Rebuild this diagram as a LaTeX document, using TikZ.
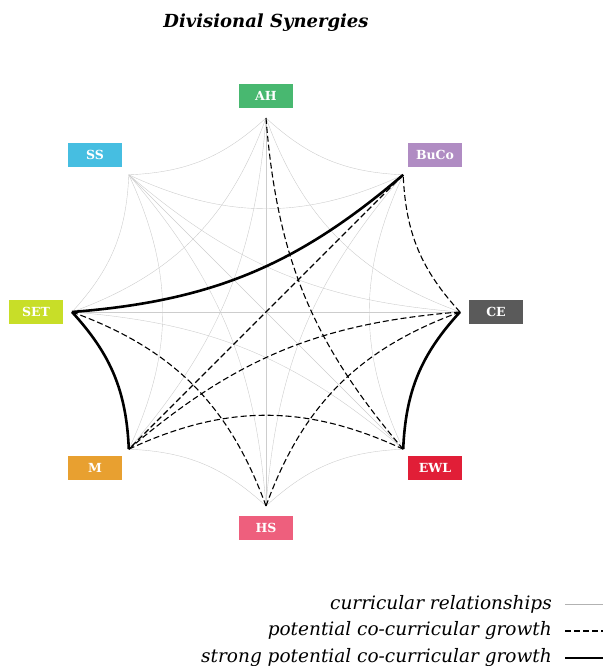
\documentclass[tikz,border=0pt]{standalone}
\usepackage{fontspec}
\setmainfont{DejaVu Serif}
\usetikzlibrary{calc}
\definecolor{cAH}{RGB}{72,184,112}
\definecolor{cSS}{RGB}{70,190,225}
\definecolor{cBuCo}{RGB}{176,140,195}
\definecolor{cSET}{RGB}{200,222,40}
\definecolor{cCE}{RGB}{90,90,90}
\definecolor{cM}{RGB}{232,160,48}
\definecolor{cEWL}{RGB}{225,30,55}
\definecolor{cHS}{RGB}{238,95,125}
\definecolor{faint}{RGB}{205,205,205}
\tikzset{
  lab/.style={fill=#1, text=white, font=\bfseries\fontsize{12.5}{12.5}\selectfont, minimum width=54pt, minimum height=24pt, inner sep=0pt},
  curr/.style={draw=faint, line width=0.4pt},
  potential/.style={draw=black, line width=1.1pt, dash pattern=on 6pt off 3pt},
  strong/.style={draw=black, line width=2.6pt},
  legtext/.style={anchor=east, font=\itshape\fontsize{18.5}{18.5}\selectfont, inner sep=0pt},
}
\begin{document}
\begin{tikzpicture}[x=1pt,y=1pt]
\useasboundingbox (0,0) rectangle (604,666);
% points on the circle
\coordinate (CE)   at ([shift={(266,354)}]0:194);
\coordinate (BuCo) at ([shift={(266,354)}]45:194);
\coordinate (AH)   at ([shift={(266,354)}]90:194);
\coordinate (SS)   at ([shift={(266,354)}]135:194);
\coordinate (SET)  at ([shift={(266,354)}]180:194);
\coordinate (M)    at ([shift={(266,354)}]225:194);
\coordinate (HS)   at ([shift={(266,354)}]270:194);
\coordinate (EWL)  at ([shift={(266,354)}]315:194);
% title
\node[font=\bfseries\itshape\fontsize{18}{18}\selectfont] (title) at (266,643) {Divisional Synergies};
% curricular relationships (faint)
\draw[curr] (BuCo) to[bend left=20] (AH);
\draw[curr] (AH) to[bend left=20] (SS);
\draw[curr] (SS) to[bend left=20] (SET);
\draw[curr] (M) to[bend left=20] (HS);
\draw[curr] (HS) to[bend left=20] (EWL);
\draw[curr] (CE) to[bend left=25] (AH);
\draw[curr] (BuCo) to[bend left=25] (SS);
\draw[curr] (AH) to[bend left=25] (SET);
\draw[curr] (SS) to[bend left=25] (M);
\draw[curr] (EWL) to[bend left=25] (BuCo);
\draw[curr] (CE) to[bend left=18] (SS);
\draw[curr] (AH) to[bend left=18] (M);
\draw[curr] (SS) to[bend left=18] (HS);
\draw[curr] (SET) to[bend left=18] (EWL);
\draw[curr] (HS) to[bend left=18] (BuCo);
\draw[curr] (CE) -- (SET);
\draw[curr] (AH) -- (HS);
\draw[curr] (SS) -- (EWL);
% potential co-curricular growth
\draw[potential] (EWL) to[bend left=18] (AH);
\draw[potential] (CE) to[bend left=20] (BuCo);
\draw[potential] (BuCo) -- (M);
\draw[potential] (M) to[bend left=18] (CE);
\draw[potential] (M) to[bend left=25] (EWL);
\draw[potential] (HS) to[bend left=25] (CE);
\draw[potential] (SET) to[bend left=25] (HS);
% strong potential co-curricular growth
\draw[strong] (BuCo) to[bend left=18] (SET);
\draw[strong] (SET) to[bend left=20] (M);
\draw[strong] (EWL) to[bend left=20] (CE);
% labels
\node[lab=cAH]   (lAH)   at (266,570) {AH};
\node[lab=cSS]   (lSS)   at (95,511)  {SS};
\node[lab=cBuCo] (lBuCo) at (435,511) {BuCo};
\node[lab=cSET]  (lSET)  at (36,354)  {SET};
\node[lab=cCE]   (lCE)   at (496,354) {CE};
\node[lab=cM]    (lM)    at (95,198)  {M};
\node[lab=cEWL]  (lEWL)  at (435,198) {EWL};
\node[lab=cHS]   (lHS)   at (266,138) {HS};
% legend
\coordinate (l1a) at (565,62); \coordinate (l1b) at (603,62);
\coordinate (l2a) at (565,35); \coordinate (l2b) at (603,35);
\coordinate (l3a) at (565,8);  \coordinate (l3b) at (603,8);
\draw[draw=gray!60, line width=0.8pt] (l1a) -- (l1b);
\draw[potential, line width=1.6pt] (l2a) -- (l2b);
\draw[strong] (l3a) -- (l3b);
\node[legtext] (t1) at (552,62) {curricular relationships};
\node[legtext] (t2) at (552,35) {potential co-curricular growth};
\node[legtext] (t3) at (552,8)  {strong potential co-curricular growth};
\end{tikzpicture}
\end{document}
